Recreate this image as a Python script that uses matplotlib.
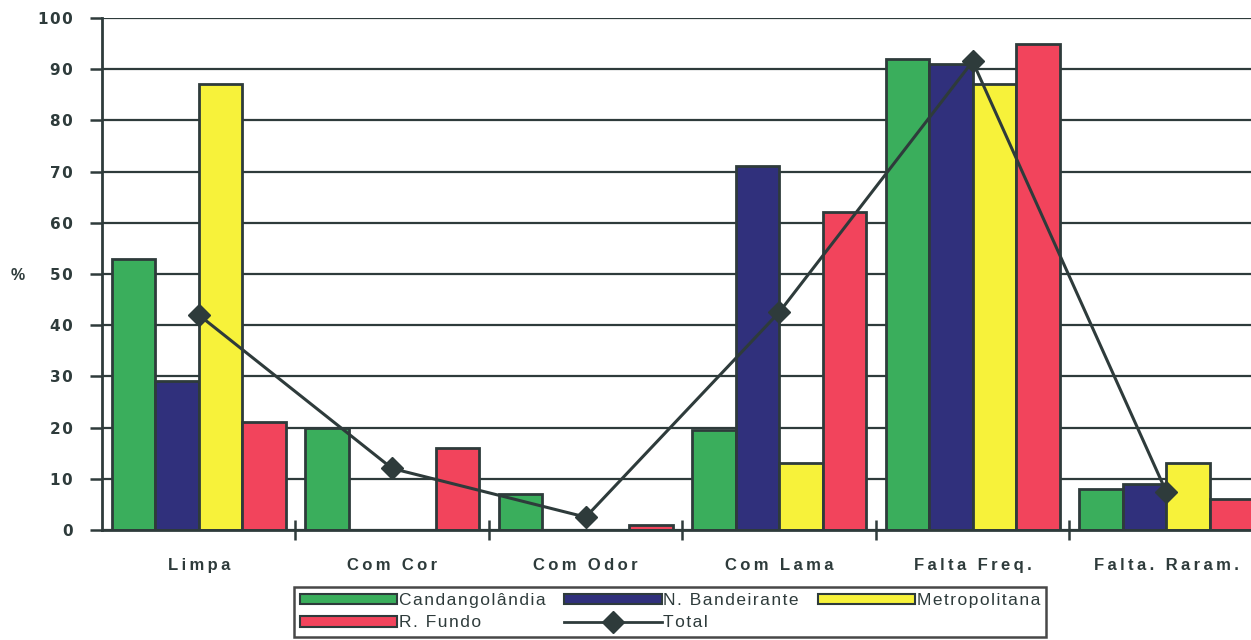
import numpy as np
import matplotlib
matplotlib.use('Agg')
import matplotlib.pyplot as plt
from matplotlib.patches import Patch
from matplotlib.lines import Line2D

# Dados (%) por condição observada
categorias = ['Limpa', 'Com Cor', 'Com Odor', 'Com Lama', 'Falta Freq.', 'Falta. Raram.']
candangolandia = [53, 20, 7, 19.5, 92, 8]
n_bandeirante  = [29, 0, 0, 71, 91, 9]
metropolitana  = [87, 0, 0, 13, 87, 13]
r_fundo        = [21, 16, 1, 62, 95, 6]
total          = [42, 12, 2.5, 42.5, 91.5, 7.5]

series = [
    ('Candangolândia', candangolandia, '#3aae5c'),
    ('N. Bandeirante', n_bandeirante, '#30307c'),
    ('Metropolitana', metropolitana, '#f7f23a'),
    ('R. Fundo', r_fundo, '#f2445c'),
]

EDGE = '#2e3b3b'
plt.rcParams['font.family'] = ['Liberation Sans', 'DejaVu Sans']


def espacado(txt, sp='\u2009'):
    # espaçamento entre letras
    return sp.join(txt)


fig = plt.figure(figsize=(12.51, 6.4), dpi=100, facecolor='white')
ax = fig.add_axes([0.0815, 0.172, 0.928, 0.8])

x = np.arange(len(categorias))
largura = 0.225
for i, (nome, vals, cor) in enumerate(series):
    ax.bar(x + (i - 1.5) * largura, vals, width=largura, color=cor,
           edgecolor=EDGE, linewidth=2, zorder=2)

ax.plot(x, total, color=EDGE, linewidth=2.2, marker='D', markersize=11,
        markerfacecolor=EDGE, markeredgecolor=EDGE, zorder=3)

ax.set_xlim(-0.5, 5.5)
ax.set_ylim(0, 100)
yt = list(range(0, 101, 10))
ax.set_yticks(yt)
ax.set_yticklabels([espacado(str(v), '\u200a') for v in yt],
                   fontsize=11, fontweight='bold', color=EDGE,
                   family=['DejaVu Sans'])
ax.yaxis.grid(True, color=EDGE, linewidth=1.6, zorder=0)
ax.set_axisbelow(True)

for s in ['top', 'right']:
    ax.spines[s].set_visible(False)
for s in ['left', 'bottom']:
    ax.spines[s].set_color(EDGE)
    ax.spines[s].set_linewidth(2)

ax.tick_params(axis='y', direction='out', length=9, width=1.8, color=EDGE, pad=12)

ax.set_xticks(x)
ax.set_xticklabels([espacado(c) for c in categorias], fontsize=12,
                   fontweight='bold', color=EDGE)
ax.tick_params(axis='x', which='major', length=0, pad=20)
ax.set_xticks(np.arange(0.5, 5.5, 1), minor=True)
ax.tick_params(axis='x', which='minor', direction='inout', length=14,
               width=1.8, color=EDGE)

fig.text(0.0145, 0.57, '%', fontsize=11.5, fontweight='bold', color=EDGE,
         ha='center', va='center')

handles = [Patch(facecolor=c, edgecolor=EDGE, linewidth=1.5) for _, _, c in series]
handles.append(Line2D([0], [0], color=EDGE, linewidth=2, marker='D',
                      markersize=11, markerfacecolor=EDGE))
rotulos = [s[0] for s in series] + ['Total']
# ordem para preencher em linhas (3 colunas)
ordem = [0, 3, 1, 4, 2]
leg = fig.legend([handles[k] for k in ordem],
                 [espacado(rotulos[k], '\u200a') for k in ordem],
                 ncol=3, loc='center', bbox_to_anchor=(0.5356, 0.044),
                 fontsize=12.5, frameon=True, fancybox=False, handlelength=5.6,
                 handleheight=0.55, handletextpad=0.1, columnspacing=1.1,
                 labelspacing=0.42, borderpad=0.35, edgecolor='#1a1a1a')
leg.get_frame().set_linewidth(1.8)
for t in leg.get_texts():
    t.set_color(EDGE)

fig.savefig('out.png', dpi=100, facecolor='white')
